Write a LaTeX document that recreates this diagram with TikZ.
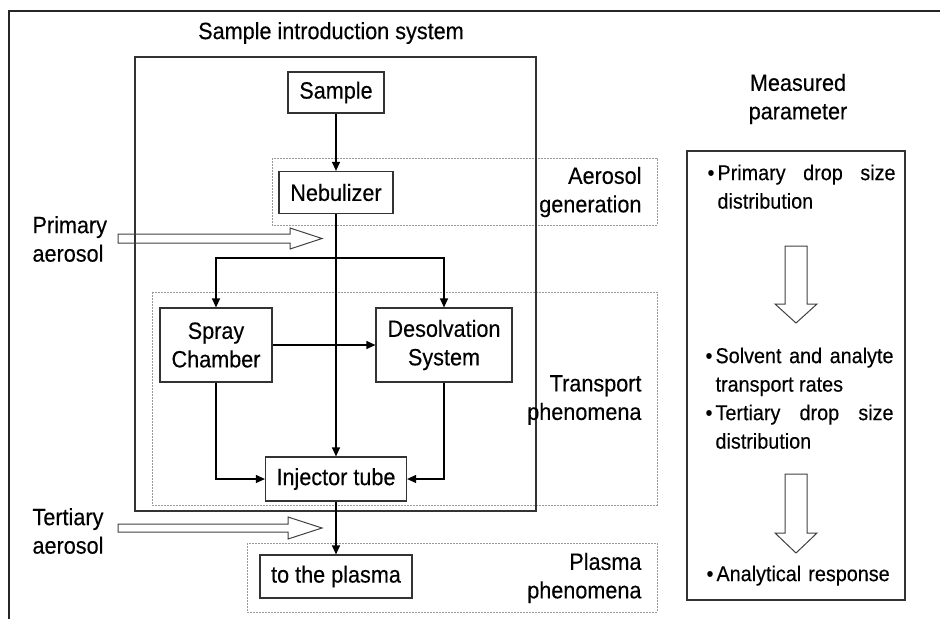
\documentclass[tikz,border=0pt]{standalone}
\usepackage{fontspec}
\setmainfont{Liberation Sans}[FakeStretch=0.92, FakeBold=0.3]
\usetikzlibrary{arrows.meta}

\tikzset{
  unitbox/.style={draw=black!80, line width=1.2pt, inner sep=0pt, align=center},
  zonebox/.style={draw=black!40, line width=0.8pt, dash pattern=on 2pt off 1pt},
  flow/.style={draw=black, line width=1.2pt, -{Triangle[length=9pt,width=8pt]}},
  hollow/.style={draw=black!75, line width=1pt, line join=miter},
}
\newcommand{\bitem}[1]{\noindent\hangindent=10pt\hangafter=1\makebox[10pt][l]{\textbullet}#1\par}

\begin{document}
\begin{tikzpicture}[x=1pt, y=-1pt, font=\fontsize{23.5}{28.5}\selectfont]
	\useasboundingbox (0,0) rectangle (940,619);
	\draw[line width=2pt, black!85] (9,619) -- (9,11) -- (940,11);
	% zones
	\draw[zonebox] (272,158) rectangle (657,225);
	\draw[zonebox] (152,292) rectangle (657,505);
	\draw[zonebox] (247,543) rectangle (657,612);
	\draw[black!80, line width=1.2pt] (135,57) rectangle (536,511);
	\node (title) at (331,33) {Sample introduction system};
	\node[anchor=east, align=right] (aerogen) at (645,192) {Aerosol\\generation};
	\node[anchor=east, align=right] (transport) at (645,400) {Transport\\phenomena};
	\node[anchor=east, align=right] (plasmaph) at (645,578) {Plasma\\phenomena};
	\node[anchor=west, align=left] (primary) at (29,239) {Primary\\aerosol};
	\node[anchor=west, align=left] (tertiary) at (29,531) {Tertiary\\aerosol};
	% units
	\node[unitbox, minimum width=96pt, minimum height=41pt] (sample) at (336,92.5) {Sample};
	\node[unitbox, minimum width=114pt, minimum height=42pt] (nebulizer) at (336,192.5) {Nebulizer};
	\node[unitbox, minimum width=112pt, minimum height=74pt] (spray) at (216,345) {Spray\\Chamber};
	\node[unitbox, minimum width=136pt, minimum height=74pt] (desolv) at (444,345) {Desolvation\\System};
	\node[unitbox, minimum width=141pt, minimum height=44pt] (injector) at (336,479) {Injector tube};
	\node[unitbox, minimum width=152pt, minimum height=43pt] (plasma) at (336,576.5) {to the plasma};
	\coordinate (split) at (336,258);
	\draw[flow] (sample) -- (nebulizer);
	\draw[flow] (nebulizer) -- (injector);
	\draw[flow] (split) -| (spray);
	\draw[flow] (split) -| (desolv);
	\draw[flow] (spray) -- (desolv);
	\draw[flow] (spray) |- (injector);
	\draw[flow] (desolv) |- (injector);
	\draw[flow] (injector) -- (plasma);
	% aerosol arrows
	\draw[hollow] (118,234) -- (290,234) -- (290,228) -- (322,238.5) -- (290,249) -- (290,243) -- (118,243) -- cycle;
	\draw[hollow] (118,524) -- (288,524) -- (288,517) -- (322,528) -- (288,539) -- (288,532) -- (118,532) -- cycle;
	% measured parameter
	\node[align=center] (measured) at (798,99) {Measured\\parameter};
	\draw[black!80, line width=1.2pt] (687,151) rectangle (905,600);
	\node[anchor=north west, text width=188pt, align=justify, font=\fontsize{21.5}{28.5}\selectfont] (dropone) at (704,161)
		{\bitem{Primary drop size distribution}};
	\node[anchor=north west, text width=188pt, align=justify, font=\fontsize{21.5}{28.5}\selectfont] (transrate) at (702,344)
		{\bitem{Solvent and analyte transport rates}\bitem{Tertiary drop size distribution}};
	\node[anchor=north west, text width=188pt, align=left, font=\fontsize{21.5}{28.5}\selectfont] (response) at (703,562)
		{\bitem{Analytical response}};
	\draw[hollow] (785,246) -- (807,246) -- (807,304) -- (817,304) -- (796,323) -- (775,304) -- (785,304) -- cycle;
	\draw[hollow] (785,474) -- (807,474) -- (807,533) -- (817,533) -- (796,553) -- (775,533) -- (785,533) -- cycle;
\end{tikzpicture}
\end{document}
